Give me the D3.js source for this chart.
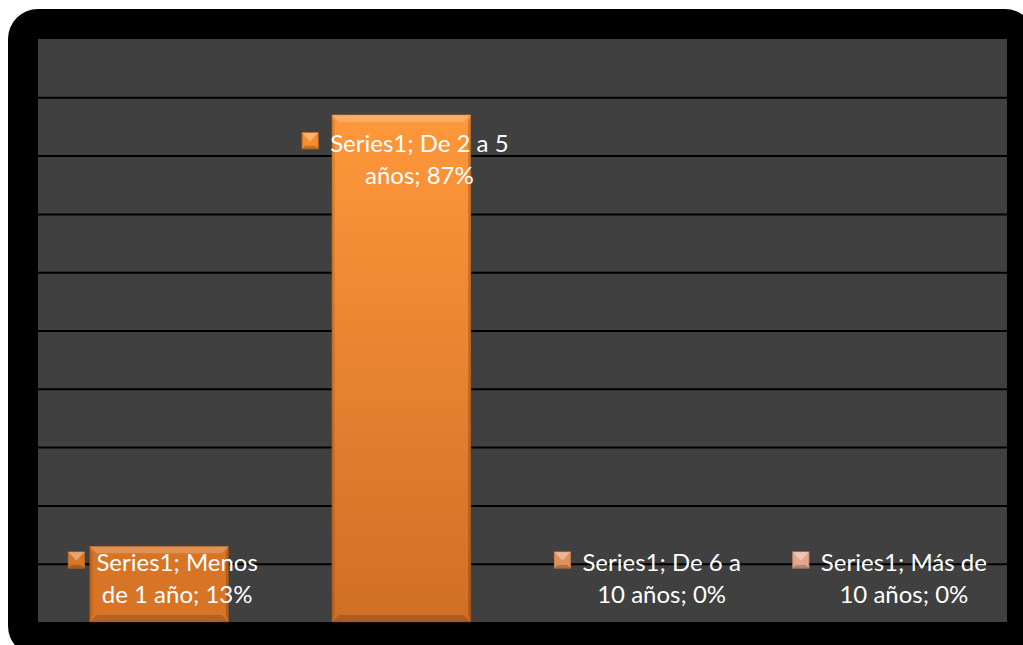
<!DOCTYPE html>
<html>
<head>
<meta charset="utf-8">
<script src="https://cdn.jsdelivr.net/npm/d3@7/dist/d3.min.js"></script>
<style>
  html, body { margin: 0; padding: 0; background: #ffffff; }
  svg { display: block; }
</style>
</head>
<body>
<svg id="chart" width="1023" height="645"></svg>
<script>
// ---- data ----
const seriesName = "Series1";
const categories = ["Menos de 1 año", "De 2 a 5 años", "De 6 a 10 años", "Más de 10 años"];
const values = [13, 87, 0, 0];
const yTicks = [0, 10, 20, 30, 40, 50, 60, 70, 80, 90, 100];
const pointColors = ["#D87426", "#F98C2C", "#E0905A", "#E3A88C"];
const pointColorsLight = ["#E08030", "#FF973A", "#ECA878", "#F0C0A8"];
const pointColorsDark = ["#C86A22", "#D06E25", "#C8804E", "#CC9478"];

// ---- layout ----
const plot = { left: 38, right: 1007, top: 39, bottom: 622 };
const svg = d3.select("#chart");

// frame
svg.append("rect").attr("x", 8).attr("y", 9).attr("width", 1027).attr("height", 647)
  .attr("rx", 30).attr("ry", 30).attr("fill", "#000000");
svg.append("rect").attr("x", plot.left).attr("y", plot.top)
  .attr("width", plot.right - plot.left).attr("height", plot.bottom - plot.top)
  .attr("fill", "#404040");

const x = d3.scaleBand().domain(categories).range([plot.left, plot.right]).paddingInner(0.426).paddingOuter(0.213);
const y = d3.scaleLinear().domain([0, 100]).range([plot.bottom, plot.top]);

// gridlines via axis
const grid = svg.append("g").attr("transform", `translate(${plot.left},0)`)
  .call(d3.axisLeft(y).tickValues(yTicks.filter(t => t > 0 && t < 100)).tickSize(-(plot.right - plot.left)).tickFormat(""));
grid.select(".domain").remove();
grid.selectAll(".tick line").attr("stroke", "#000000").attr("stroke-width", 2);

// gradients
const defs = svg.append("defs");
categories.forEach((c, i) => {
  const g = defs.append("linearGradient").attr("id", "grad" + i)
    .attr("x1", 0).attr("y1", 0).attr("x2", 0).attr("y2", 1);
  g.append("stop").attr("offset", "0%").attr("stop-color", pointColorsLight[i]);
  g.append("stop").attr("offset", "100%").attr("stop-color", pointColorsDark[i]);
});

// bars with bevel
const bev = 7;
const bars = svg.append("g");
values.forEach((v, i) => {
  const c = categories[i];
  const x0 = x(c), x1 = x(c) + x.bandwidth();
  const y0 = y(v), y1 = y(0);
  if (y1 - y0 < 1) return;
  const g = bars.append("g");
  g.append("rect").attr("x", x0).attr("y", y0).attr("width", x1 - x0).attr("height", y1 - y0)
    .attr("fill", i === 1 ? `url(#grad${i})` : pointColors[i]);
  const b = Math.min(bev, (y1 - y0) / 2);
  g.append("polygon").attr("points", [[x0, y0], [x1, y0], [x1 - b, y0 + b], [x0 + b, y0 + b]].join(" "))
    .attr("fill", "#ffffff").attr("opacity", 0.22);
  g.append("polygon").attr("points", [[x0, y1], [x1, y1], [x1 - b, y1 - b], [x0 + b, y1 - b]].join(" "))
    .attr("fill", "#000000").attr("opacity", 0.16);
  g.append("polygon").attr("points", [[x0, y0], [x0 + b * 0.4, y0 + b], [x0 + b * 0.4, y1 - b], [x0, y1]].join(" "))
    .attr("fill", "#000000").attr("opacity", 0.12);
  g.append("polygon").attr("points", [[x1, y0], [x1 - b * 0.4, y0 + b], [x1 - b * 0.4, y1 - b], [x1, y1]].join(" "))
    .attr("fill", "#000000").attr("opacity", 0.18);
  g.append("rect").attr("x", x0).attr("y", y0).attr("width", x1 - x0).attr("height", y1 - y0)
    .attr("fill", "none").attr("stroke", "#8a4510").attr("stroke-opacity", 0.35).attr("stroke-width", 1);
});

// data labels
const fontSize = 24;
const lineGap = 32;
const maxLineW = 185;
const labels = svg.append("g").attr("font-family", "Lato, 'Open Sans', sans-serif")
  .attr("font-size", fontSize).attr("fill", "#ffffff");

function wrapWords(words, measure) {
  const lines = [];
  let cur = "";
  words.forEach(w => {
    const t = cur ? cur + " " + w : w;
    if (cur && measure(t) > maxLineW) { lines.push(cur); cur = w; }
    else cur = t;
  });
  if (cur) lines.push(cur);
  return lines;
}

const measurer = labels.append("text").attr("visibility", "hidden");
const measure = s => { measurer.text(s); return measurer.node().getComputedTextLength(); };

values.forEach((v, i) => {
  const c = categories[i];
  const full = `${seriesName}; ${c}; ${v}%`;
  const lines = wrapWords(full.split(" "), measure);
  const cx = x(c) + x.bandwidth() / 2 + 18;
  const base1 = Math.min(y(v) + 37, plot.bottom - 51);
  const t = labels.append("text").attr("text-anchor", "middle");
  lines.forEach((ln, k) => {
    t.append("tspan").attr("x", cx).attr("y", base1 + k * lineGap).text(ln);
  });
  const w1 = measure(lines[0]);
  const kx = cx - w1 / 2 - 28, ky = base1 - 19, ks = 16;
  const kg = labels.append("g");
  kg.append("rect").attr("x", kx).attr("y", ky).attr("width", ks).attr("height", ks)
    .attr("fill", pointColors[i]).attr("stroke", pointColorsDark[i]).attr("stroke-width", 1);
  kg.append("polygon").attr("points", [[kx, ky], [kx + ks, ky], [kx + ks / 2, ky + ks * 0.55]].join(" "))
    .attr("fill", "#ffffff").attr("opacity", 0.35);
  kg.append("polygon").attr("points", [[kx, ky + ks], [kx + ks, ky + ks], [kx + ks - 3, ky + ks - 3], [kx + 3, ky + ks - 3]].join(" "))
    .attr("fill", "#000000").attr("opacity", 0.2);
});
measurer.remove();
</script>
</body>
</html>
